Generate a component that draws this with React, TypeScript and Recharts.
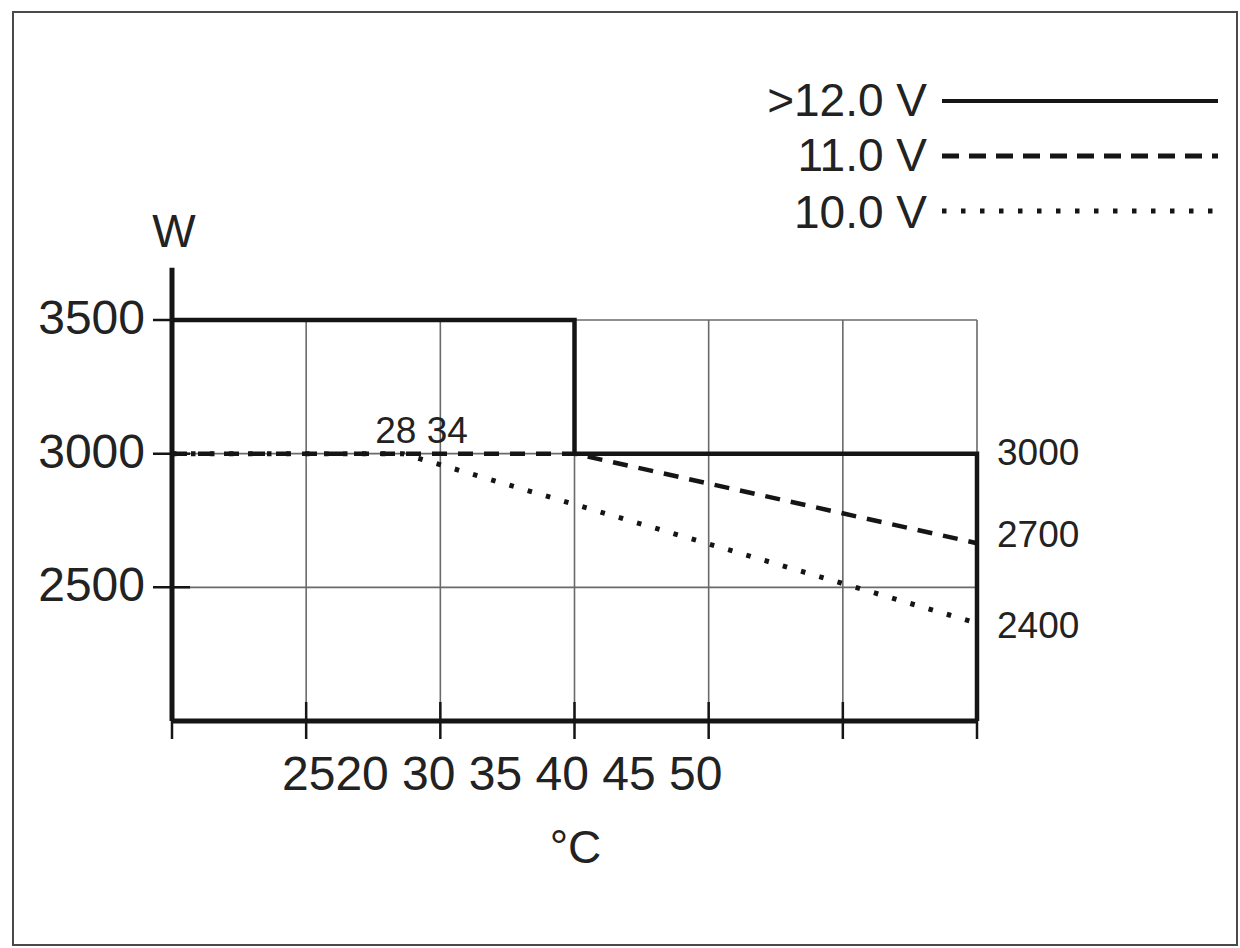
import React from 'react';
import {
  ComposedChart,
  Line,
  XAxis,
  YAxis,
  CartesianGrid,
  ReferenceLine,
  ReferenceDot,
} from 'recharts';

// ---- data ----
const xTicks = [20, 25, 30, 35, 40, 45, 50];
const yTicks = [2500, 3000, 3500];
const xTickText = '2520 30 35 40 45 50';
const xTitle = '°C';
const yTitle = 'W';

const seriesNames = ['>12.0 V', '11.0 V', '10.0 V'];
const highTemps = [20, 35, 35, 50, 50];
const highWatts = [3500, 3500, 3000, 3000, 2000];
const midTemps = [20, 35, 50];
const midWatts = [3000, 3000, 2665];
const lowTemps = [20, 28.6, 50];
const lowWatts = [3000, 3000, 2366];

const endLabelTexts = ['3000', '2700', '2400'];
const endLabelWatts = [3006, 2700, 2360];
const breakText = '28 34';
const breakTemp = 29.3;
const breakWatt = 3000;
const yAxisTopWatt = 3695;

const toPoints = (xs: number[], ys: number[]) => xs.map((t, i) => ({ t, w: ys[i] }));
const highData = toPoints(highTemps, highWatts);
const midData = toPoints(midTemps, midWatts);
const lowData = toPoints(lowTemps, lowWatts);

const INK = '#151515';
const TEXT = '#222';
const FONT = '"Liberation Sans", Arial, Helvetica, sans-serif';

const seriesDash = [undefined, '15 11', '4.5 14.5'];
const legendDash = [undefined, '17 10', '4.5 14.5'];

const XTick = (props: any) => {
  const { x, y } = props;
  return <line x1={x} x2={x} y1={y - 37} y2={y} stroke={INK} strokeWidth={2.5} />;
};

const YTick = (props: any) => {
  const { x, y, payload } = props;
  return (
    <g>
      <line x1={x + 8} x2={x + 45} y1={y} y2={y} stroke={INK} strokeWidth={2.5} />
      <text x={x} y={y + 14} textAnchor="end" fontSize={48} fill={TEXT} fontFamily={FONT}>
        {payload.value}
      </text>
    </g>
  );
};

const XLabel = (props: any) => {
  const vb = props.viewBox || { x: 172, y: 721, width: 805, height: 60 };
  return (
    <g>
      <text x={vb.x + 110} y={vb.y + 69} textAnchor="start" fontSize={48} fill={TEXT} fontFamily={FONT}>
        {xTickText}
      </text>
      <text x={vb.x + vb.width / 2 + 1} y={vb.y + 142} textAnchor="middle" fontSize={46} fill={TEXT} fontFamily={FONT}>
        {xTitle}
      </text>
    </g>
  );
};

const YLabel = (props: any) => {
  const vb = props.viewBox || { x: 112, y: 320, width: 60, height: 401 };
  return (
    <text x={vb.x + vb.width + 2} y={vb.y - 73} textAnchor="middle" fontSize={46} fill={TEXT} fontFamily={FONT}>
      {yTitle}
    </text>
  );
};

const legendRows = [
  { textY: 116, lineY: 101 },
  { textY: 171, lineY: 156 },
  { textY: 228, lineY: 211 },
];

export default function App() {
  return (
    <div style={{ position: 'absolute', left: 0, top: 0, width: 1240, height: 948, background: '#fff' }}>
      <div
        style={{
          position: 'absolute',
          left: 12,
          top: 11,
          width: 1226,
          height: 935,
          border: '2px solid #4a4a4a',
          boxSizing: 'border-box',
        }}
      />
      <div style={{ position: 'absolute', left: 0, top: 0 }}>
        <ComposedChart
          width={1240}
          height={948}
          margin={{ top: 320, right: 263, bottom: 167, left: 112 }}
          style={{ fontFamily: FONT }}
        >
          <CartesianGrid stroke="#6a6a6a" strokeWidth={1.6} />
          <XAxis
            dataKey="t"
            type="number"
            domain={[20, 50]}
            ticks={xTicks}
            interval={0}
            height={60}
            tickSize={18}
            tickMargin={0}
            tickLine={false}
            tick={<XTick />}
            axisLine={{ stroke: INK, strokeWidth: 5 }}
            label={<XLabel />}
            allowDecimals
          />
          <YAxis
            type="number"
            domain={[2000, 3500]}
            ticks={yTicks}
            interval={0}
            width={60}
            tickSize={19}
            tickMargin={8}
            tickLine={false}
            tick={<YTick />}
            axisLine={false}
            label={<YLabel />}
          />
          <ReferenceLine
            segment={[
              { x: 20, y: 2000 },
              { x: 20, y: yAxisTopWatt },
            ]}
            stroke={INK}
            strokeWidth={5}
            ifOverflow="visible"
          />
          <Line
            data={lowData}
            dataKey="w"
            name={seriesNames[2]}
            type="linear"
            stroke={INK}
            strokeWidth={5}
            strokeDasharray={seriesDash[2]}
            dot={false}
            activeDot={false}
            isAnimationActive={false}
          />
          <Line
            data={midData}
            dataKey="w"
            name={seriesNames[1]}
            type="linear"
            stroke={INK}
            strokeWidth={4.5}
            strokeDasharray={seriesDash[1]}
            dot={false}
            activeDot={false}
            isAnimationActive={false}
          />
          <Line
            data={highData}
            dataKey="w"
            name={seriesNames[0]}
            type="linear"
            stroke={INK}
            strokeWidth={4.5}
            strokeLinejoin="miter"
            dot={false}
            activeDot={false}
            isAnimationActive={false}
          />
          {endLabelWatts.map((w, i) => (
            <ReferenceDot
              key={i}
              x={50}
              y={w}
              r={0}
              fill="none"
              stroke="none"
              label={{ value: endLabelTexts[i], position: 'right', offset: 20, fontSize: 37, fill: TEXT, fontFamily: FONT }}
            />
          ))}
          <ReferenceDot
            x={breakTemp}
            y={breakWatt}
            r={0}
            fill="none"
            stroke="none"
            label={{ value: breakText, position: 'top', offset: 11, fontSize: 37, fill: TEXT, fontFamily: FONT }}
          />
        </ComposedChart>
      </div>
      <svg
        width={1240}
        height={948}
        style={{ position: 'absolute', left: 0, top: 0, pointerEvents: 'none' }}
      >
        {seriesNames.map((name, i) => (
          <g key={name}>
            <text x={927} y={legendRows[i].textY} textAnchor="end" fontSize={46} fill={TEXT} fontFamily={FONT}>
              {name}
            </text>
            <line
              x1={942}
              x2={1218}
              y1={legendRows[i].lineY}
              y2={legendRows[i].lineY}
              stroke={INK}
              strokeWidth={i === 0 ? 4 : 5}
              strokeDasharray={legendDash[i]}
            />
          </g>
        ))}
      </svg>
    </div>
  );
}
